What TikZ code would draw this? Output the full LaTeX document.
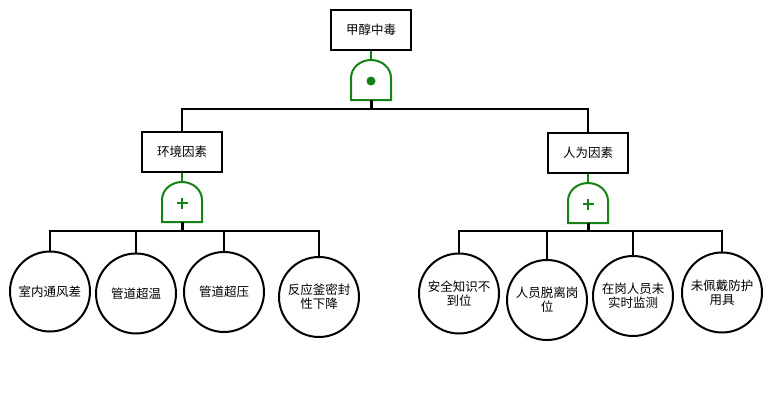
\documentclass[tikz,border=0pt]{standalone}
\usepackage{fontspec}
\usetikzlibrary{calc}
\setmainfont{Noto Sans CJK SC}
\definecolor{gategreen}{RGB}{20,130,20}
\tikzset{
  evbox/.style={draw=black, line width=2pt, fill=white, minimum width=80pt, minimum height=40pt, inner sep=0pt, font=\fontsize{12.5}{14}\selectfont},
  basic/.style={draw=black, circle, line width=2pt, fill=white, minimum size=80pt, inner sep=0pt, align=center, font=\fontsize{12.5}{14}\selectfont},
  gline/.style={draw=gategreen, line width=2pt},
  conn/.style={draw=black, line width=2pt},
  stem/.style={draw=black, line width=3pt},
  gatebody/.pic={
    \draw[gline, fill=white] (-20,40) -- (-20,18) .. controls (-20,8) and (-11,0) .. (0,0)
      .. controls (11,0) and (20,8) .. (20,18) -- (20,40) -- cycle;
    \coordinate (-top) at (0,0);
    \coordinate (-bot) at (0,40);
    \coordinate (-mid) at (0,21);
  },
}
\begin{document}
\begin{tikzpicture}[x=1pt,y=-1pt]
\useasboundingbox (0,0) rectangle (772,399);
\fill[white] (0,0) rectangle (772,399);

% top event
\node[evbox] (top) at (371,30) {甲醇中毒};
\pic (g0) at (371,60) {gatebody};
\fill[gategreen] (g0-mid) circle (4.5);
\draw[gline] (top.south) -- (g0-top);

% intermediate events
\node[evbox] (env) at (182,152) {环境因素};
\node[evbox] (hum) at (588,153) {人为因素};

\coordinate (j0) at (371,109);
\draw[stem] (g0-bot) -- (j0);
\draw[conn] (j0) -| (env.north);
\draw[conn] (j0) -| (hum.north);

\pic (g1) at (182,182) {gatebody};
\pic (g2) at (588,183) {gatebody};
\draw[gline] (env.south) -- (g1-top);
\draw[gline] (hum.south) -- (g2-top);
\foreach \g in {g1,g2}{
  \draw[gategreen, line width=2pt] ($(\g-mid)+(-5.5,0)$) -- ($(\g-mid)+(5.5,0)$);
  \draw[gategreen, line width=2pt] ($(\g-mid)+(0,-5.5)$) -- ($(\g-mid)+(0,5.5)$);
}

% basic events
\node[basic] (l1) at (50,291.5) {室内通风差};
\node[basic] (l2) at (136,293.5) {管道超温};
\node[basic] (l3) at (224,292) {管道超压};
\node[basic] (l4) at (319,297) {反应釜密封\\性下降};
\node[basic] (r1) at (459,293.5) {安全知识不\\到位};
\node[basic] (r2) at (547,300) {人员脱离岗\\位};
\node[basic] (r3) at (633,296) {在岗人员未\\实时监测};
\node[basic] (r4) at (722,292.5) {未佩戴防护\\用具};

\coordinate (j1) at (182,231);
\coordinate (j2) at (588,231);
\draw[stem] (g1-bot) -- (j1);
\draw[stem] (g2-bot) -- (j2);
\foreach \n in {l1,l2,l3,l4}{ \draw[conn] (j1) -| (\n.north); }
\foreach \n in {r1,r2,r3,r4}{ \draw[conn] (j2) -| (\n.north); }
\end{tikzpicture}
\end{document}
